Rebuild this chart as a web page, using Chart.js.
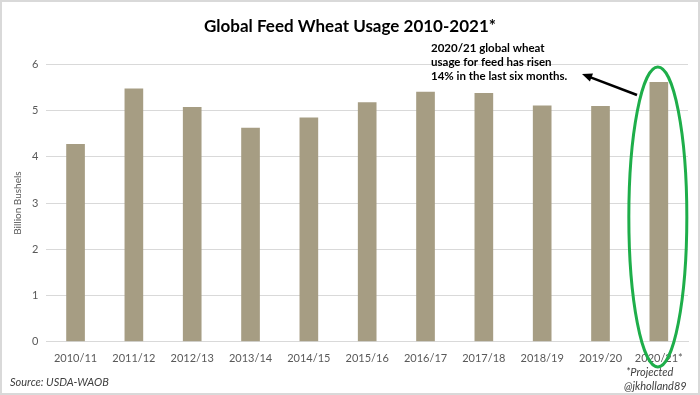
<!DOCTYPE html>
<html>
<head>
<meta charset="utf-8">
<script src="https://cdn.jsdelivr.net/npm/chart.js@4.4.1/dist/chart.umd.min.js"></script>
<style>
  html, body { margin: 0; padding: 0; background: #fff; }
  #wrap { width: 700px; height: 395px; position: relative; }
</style>
</head>
<body>
<div id="wrap"><canvas id="chart"></canvas></div>
<script>
const seasons = ["2010/11", "2011/12", "2012/13", "2013/14", "2014/15", "2015/16",
  "2016/17", "2017/18", "2018/19", "2019/20", "2020/21*"];
const feedUsage = [4.28, 5.48, 5.08, 4.63, 4.85, 5.18, 5.41, 5.38, 5.11, 5.10, 5.62];
const yTicks = [0, 1, 2, 3, 4, 5, 6];

const FONT = "Lato, 'Open Sans', sans-serif";

// extras drawn on top: frame, callout ellipse, arrow, note text, footnotes
const extras = {
  id: "extras",
  afterDraw(chart) {
    const c = chart.ctx;
    const x = chart.scales.x;
    c.save();
    c.strokeStyle = "#d9d9d9";
    c.lineWidth = 2;
    c.strokeRect(1, 1, chart.width - 2, chart.height - 2);

    // green ellipse round the last bar
    const last = seasons.length - 1;
    const cx = x.getPixelForValue(last);
    c.strokeStyle = "#1eae4a";
    c.lineWidth = 3;
    c.beginPath();
    c.ellipse(cx - 1, 217, 29, 150, 0, 0, Math.PI * 2);
    c.stroke();

    // arrow
    c.strokeStyle = "#000";
    c.fillStyle = "#000";
    c.lineWidth = 2.5;
    const x1 = 637, y1 = 95, x2 = 582, y2 = 74;
    c.beginPath(); c.moveTo(x1, y1); c.lineTo(x2 + 6, y2 + 2.3); c.stroke();
    const a = Math.atan2(y2 - y1, x2 - x1);
    c.beginPath();
    c.moveTo(x2, y2);
    c.lineTo(x2 - 11 * Math.cos(a - 0.4), y2 - 11 * Math.sin(a - 0.4));
    c.lineTo(x2 - 11 * Math.cos(a + 0.4), y2 - 11 * Math.sin(a + 0.4));
    c.closePath(); c.fill();

    // note
    c.fillStyle = "#000";
    c.font = "bold 11.5px " + FONT;
    c.textBaseline = "middle";
    c.textAlign = "left";
    ["2020/21 global wheat", "usage for feed has risen", "14% in the last six months."]
      .forEach((t, i) => c.fillText(t, 431, 48 + i * 14));

    // footnotes
    c.font = "italic 11px " + FONT;
    c.fillStyle = "#404040";
    c.fillText("Source: USDA-WAOB", 10, 382);
    c.fillText("*Projected", 626, 372);
    c.fillText("@jkholland89", 624, 386);
    c.restore();
  }
};

new Chart(document.getElementById("chart"), {
  type: "bar",
  data: {
    labels: seasons,
    datasets: [{
      data: feedUsage,
      backgroundColor: "#a69d83",
      barPercentage: 0.32,
      categoryPercentage: 1
    }]
  },
  options: {
    animation: false,
    responsive: true,
    maintainAspectRatio: false,
    layout: { padding: { left: 12, right: 12, top: 4, bottom: 28 } },
    plugins: {
      legend: { display: false },
      tooltip: { enabled: false },
      title: {
        display: true,
        text: "Global Feed Wheat Usage 2010-2021*",
        color: "#000",
        font: { family: FONT, size: 17, weight: "bold" },
        padding: { top: 12, bottom: 28 }
      }
    },
    scales: {
      x: {
        grid: { display: false },
        border: { color: "#d9d9d9" },
        ticks: { color: "#595959", font: { family: FONT, size: 11 }, maxRotation: 0, padding: 2 }
      },
      y: {
        min: 0, max: 6,
        afterBuildTicks: (s) => { s.ticks = yTicks.map(v => ({ value: v })); },
        grid: { color: "#d9d9d9", drawTicks: false },
        border: { display: false },
        ticks: { color: "#595959", font: { family: FONT, size: 11 }, padding: 8 },
        title: {
          display: true, text: "Billion Bushels", color: "#595959",
          font: { family: FONT, size: 10 }, padding: 0
        }
      }
    }
  },
  plugins: [extras]
});
</script>
</body>
</html>
